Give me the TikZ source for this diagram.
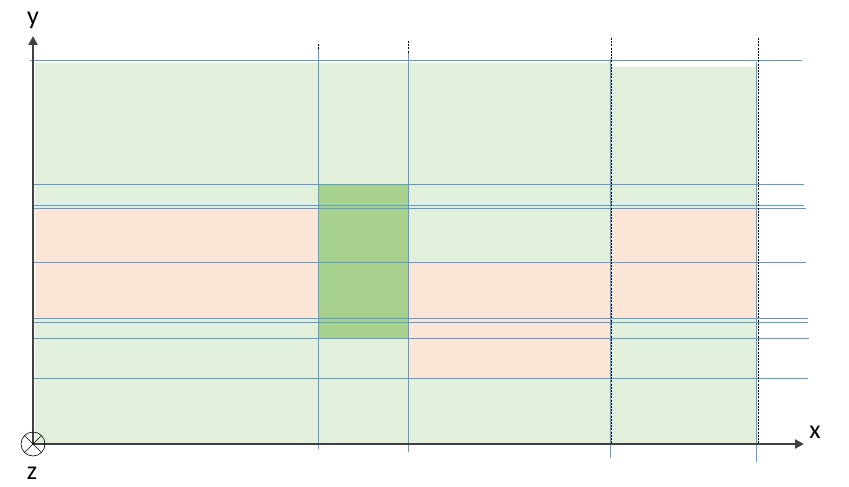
\documentclass[tikz,border=0pt]{standalone}
\usepackage{fontspec}
\setmainfont{Carlito}
\usetikzlibrary{arrows.meta,calc}
\definecolor{lgreen}{HTML}{E2EFDA}
\definecolor{peach}{HTML}{FBE5D6}
\definecolor{dgreen}{HTML}{A9D18E}
\definecolor{lblue}{HTML}{5B9BD5}
\definecolor{axgray}{HTML}{404040}
\begin{document}
\begin{tikzpicture}[x=1pt,y=-1pt,
  hline/.style={draw=lblue,line width=1pt},
  vline/.style={draw=lblue,line width=1pt},
  bdash/.style={draw=black,line width=0.8pt,dash pattern=on 2pt off 1.2pt},
  axis/.style={draw=axgray,line width=2.8pt,-{Triangle[length=9pt,width=9pt]}},
  lbl/.style={font=\fontsize{26pt}{28pt}\selectfont,inner sep=0pt}]
\useasboundingbox (0,0) rectangle (849,487);
% fills
\fill[lgreen] (35,63) rectangle (610,444);
\fill[lgreen] (610,67) rectangle (756,444);
\fill[peach] (35,208) rectangle (318,318);
\fill[peach] (408,262) rectangle (610,378);
\fill[peach] (610,208) rectangle (756,318);
\fill[dgreen] (318,184) rectangle (408,338);
% horizontal lines
\draw[hline] (30,61) -- (802,61);
\draw[hline] (33,184) -- (804,184);
\draw[hline] (33,205) -- (804,205);
\draw[hline] (33,208) -- (806,208);
\draw[hline] (33,262) -- (806,262);
\draw[hline] (33,318) -- (808,318);
\draw[hline] (33,322) -- (808,322);
\draw[hline] (33,338) -- (809,338);
\draw[hline] (33,378) -- (808,378);
% vertical lines
\draw[bdash] (318,44) -- (318,52);
\draw[vline] (318,49) -- (318,449);
\draw[bdash] (408,41) -- (408,55);
\draw[vline] (408,53) -- (408,452);
\draw[bdash] (611,38) -- (611,444);
\draw[vline] (610,59) -- (610,458);
\draw[bdash] (758,38) -- (758,444);
\draw[vline] (756,62) -- (756,462);
% axes
\coordinate (O) at (33,444);
\coordinate (Y) at (33,36);
\coordinate (X) at (804,444);
\draw[axis] (O) -- (Y);
\draw[axis] (O) -- (X);
\node[lbl,anchor=base] (ylab) at (33,25) {y};
\node[lbl,anchor=base] (xlab) at (815,438) {x};
\node[lbl,anchor=base] (zlab) at (32,479) {z};
% z symbol
\draw[black,line width=0.6pt] (O) circle[radius=12];
\draw[black,line width=0.6pt] ($(O)+(-8.5,-8.5)$) -- ($(O)+(8.5,8.5)$);
\draw[black,line width=0.6pt] ($(O)+(-8.5,8.5)$) -- ($(O)+(8.5,-8.5)$);
\end{tikzpicture}
\end{document}
